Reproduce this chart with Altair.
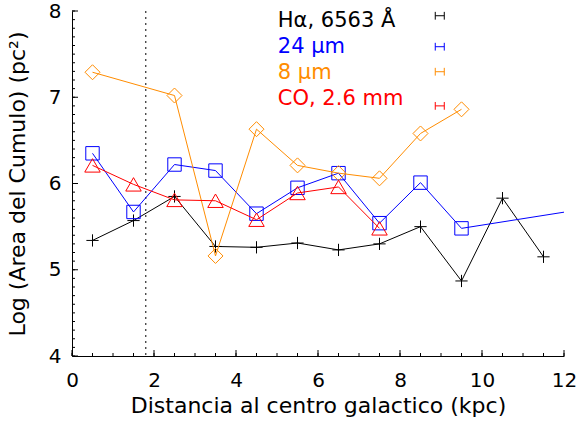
import altair as alt
import pandas as pd

# Radial bins (kpc) and log cluster area per tracer
radius_kpc = [0.5, 1.5, 2.5, 3.5, 4.5, 5.5, 6.5, 7.5, 8.5, 9.5, 10.5, 11.5]
halpha = [5.34, 5.57, 5.85, 5.27, 5.26, 5.31, 5.23, 5.30, 5.50, 4.87, 5.83, 5.15]

mir24_x = [0.5, 1.5, 2.5, 3.5, 4.5, 5.5, 6.5, 7.5, 8.5, 9.5, 13.5]
mir24 = [6.35, 5.67, 6.22, 6.15, 5.65, 5.95, 6.12, 5.54, 6.01, 5.48, 5.78]

pah8_x = [0.5, 2.5, 3.5, 4.5, 5.5, 6.5, 7.5, 8.5, 9.5]
pah8 = [7.29, 7.02, 5.16, 6.63, 6.21, 6.12, 6.06, 6.58, 6.86]

co_x = [0.5, 1.5, 2.5, 3.5, 4.5, 5.5, 6.5, 7.5]
co = [6.21, 5.99, 5.81, 5.80, 5.58, 5.89, 5.96, 5.48]

series_labels = ["H\u03b1, 6563 \u00c5", "24 \u03bcm", "8 \u03bcm", "CO, 2.6 mm"]
series_colors = ["#000000", "#0000ff", "#ff8c00", "#ff0000"]
series_shapes = ["M-1,0L1,0M0,-1L0,1", "square", "diamond", "triangle-up"]
series_sizes = [150, 180, 225, 240]
series_x = [radius_kpc, mir24_x, pah8_x, co_x]
series_y = [halpha, mir24, pah8, co]

# Legend placement (data units)
label_x = 5.02
label_y = [7.88, 7.58, 7.28, 6.98]
key_x = 8.97
key_y = [7.945, 7.586, 7.296, 6.90]
key_half = 0.11
cap_half = 0.045

bulge_edge_kpc = 1.8

x_major = [0, 2, 4, 6, 8, 10, 12]
x_minor = [i * 0.5 for i in range(25)]
y_major = [4, 5, 6, 7, 8]
y_minor = [4 + i * 0.1 for i in range(41)]

W, H = 492, 345
FONT = "DejaVu Sans"

xs = alt.Scale(domain=[0, 12], nice=False, zero=False)
ys = alt.Scale(domain=[4, 8], nice=False, zero=False)

layers = []

# axes (domain lines + labels only; ticks drawn inward below)
base_axes = alt.Chart(pd.DataFrame({"x": [0.0], "y": [4.0]})).mark_point(opacity=0).encode(
    x=alt.X("x:Q", scale=xs, axis=alt.Axis(
        values=x_major, ticks=False, grid=False, format="d", labelFlush=False,
        title="Distancia al centro galactico (kpc)")),
    y=alt.Y("y:Q", scale=ys, axis=alt.Axis(
        values=y_major, ticks=False, grid=False, format="d", labelFlush=False,
        title="Log (Area del Cumulo) (pc\u00b2)")),
)
layers.append(base_axes)

# inward tick marks
xt_minor = alt.Chart(pd.DataFrame({"x": x_minor})).mark_rule(color="black", strokeWidth=1).encode(
    x=alt.X("x:Q", scale=xs), y=alt.value(H), y2=alt.value(H - 3))
xt_major = alt.Chart(pd.DataFrame({"x": x_major})).mark_rule(color="black", strokeWidth=1).encode(
    x=alt.X("x:Q", scale=xs), y=alt.value(H), y2=alt.value(H - 6))
yt_minor = alt.Chart(pd.DataFrame({"y": y_minor})).mark_rule(color="black", strokeWidth=1).encode(
    y=alt.Y("y:Q", scale=ys), x=alt.value(0), x2=alt.value(3))
yt_major = alt.Chart(pd.DataFrame({"y": y_major})).mark_rule(color="black", strokeWidth=1).encode(
    y=alt.Y("y:Q", scale=ys), x=alt.value(0), x2=alt.value(6))
layers += [xt_minor, xt_major, yt_minor, yt_major]

# dotted reference radius
vline = alt.Chart(pd.DataFrame({"x": [bulge_edge_kpc]})).mark_rule(
    color="black", strokeWidth=1, strokeDash=[2, 4]).encode(
    x=alt.X("x:Q", scale=xs), y=alt.value(0), y2=alt.value(H))
layers.append(vline)

for name, col, shp, sz, sx, sy in zip(series_labels, series_colors, series_shapes,
                                      series_sizes, series_x, series_y):
    df = pd.DataFrame({"x": sx, "y": sy})
    line = alt.Chart(df).mark_line(color=col, strokeWidth=1, clip=True).encode(
        x=alt.X("x:Q", scale=xs), y=alt.Y("y:Q", scale=ys))
    pts = alt.Chart(df[df["x"] <= 12]).mark_point(
        shape=shp, size=sz, filled=False, color=col, strokeWidth=1, opacity=1).encode(
        x=alt.X("x:Q", scale=xs), y=alt.Y("y:Q", scale=ys))
    layers += [line, pts]

# legend: labels and error-bar style keys
leg = pd.DataFrame({
    "label": series_labels, "color": series_colors,
    "lx": [label_x] * 4, "ly": label_y,
    "kx": [key_x - key_half] * 4, "kx2": [key_x + key_half] * 4, "ky": key_y,
    "ky1": [v - cap_half for v in key_y], "ky2": [v + cap_half for v in key_y],
})
cscale = alt.Scale(domain=series_colors, range=series_colors)
leg_text = alt.Chart(leg).mark_text(align="left", baseline="middle", fontSize=21, font=FONT).encode(
    x=alt.X("lx:Q", scale=xs), y=alt.Y("ly:Q", scale=ys), text="label:N",
    color=alt.Color("color:N", scale=cscale, legend=None))
leg_bar = alt.Chart(leg).mark_rule(strokeWidth=1).encode(
    x=alt.X("kx:Q", scale=xs), x2="kx2:Q", y=alt.Y("ky:Q", scale=ys),
    color=alt.Color("color:N", scale=cscale, legend=None))
leg_cap1 = alt.Chart(leg).mark_rule(strokeWidth=1).encode(
    x=alt.X("kx:Q", scale=xs), y=alt.Y("ky1:Q", scale=ys), y2="ky2:Q",
    color=alt.Color("color:N", scale=cscale, legend=None))
leg_cap2 = alt.Chart(leg).mark_rule(strokeWidth=1).encode(
    x=alt.X("kx2:Q", scale=xs), y=alt.Y("ky1:Q", scale=ys), y2="ky2:Q",
    color=alt.Color("color:N", scale=cscale, legend=None))
layers += [leg_text, leg_bar, leg_cap1, leg_cap2]

chart = alt.layer(*layers).properties(
    width=W, height=H,
    autosize=alt.AutoSizeParams(type="none"),
    padding={"left": 72, "top": 11, "right": 15, "bottom": 71},
).configure_view(stroke=None).configure_axis(
    domainColor="black", domainWidth=1,
    labelColor="black", labelFont=FONT, labelFontSize=20,
    titleColor="black", titleFont=FONT, titleFontSize=22, titleFontWeight="normal",
).configure_axisX(titlePadding=5, labelPadding=14).configure_axisY(titlePadding=19, labelPadding=11)

chart.save("out.html", embed_options={"renderer": "svg", "actions": False})
